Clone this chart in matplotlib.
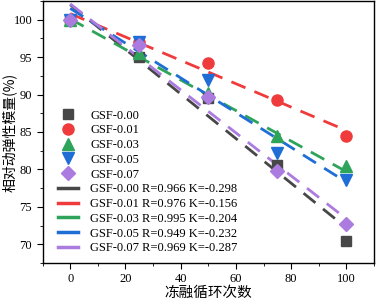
import numpy as np
import matplotlib
matplotlib.use("Agg")
import matplotlib.pyplot as plt
from matplotlib.ticker import MultipleLocator
from matplotlib.lines import Line2D

plt.rcParams['font.family'] = ['Liberation Serif', 'Noto Sans CJK SC']
plt.rcParams['mathtext.fontset'] = 'stix'

# freeze-thaw cycles
cycles = [0, 25, 50, 75, 100]

# relative dynamic modulus (%)
gsf_000 = [100.0, 95.0, 89.5, 80.6, 70.4]
gsf_001 = [100.0, 97.0, 94.2, 89.3, 84.5]
gsf_003 = [100.0, 95.5, 90.2, 84.4, 80.4]
gsf_005 = [100.0, 97.0, 92.0, 82.2, 78.6]
gsf_007 = [100.0, 96.6, 89.7, 79.8, 72.7]

names = ["GSF-0.00", "GSF-0.01", "GSF-0.03", "GSF-0.05", "GSF-0.07"]
r_vals = [0.966, 0.976, 0.995, 0.949, 0.969]
k_vals = [-0.298, -0.156, -0.204, -0.232, -0.287]
b_vals = [102.0, 100.8, 100.1, 101.5, 102.1]   # fit intercepts

series = [gsf_000, gsf_001, gsf_003, gsf_005, gsf_007]
colors = ["#474747", "#ef3b3b", "#2ea45a", "#1f6ed6", "#ab7be0"]
markers = ["s", "o", "^", "v", "D"]
msizes = [7, 8, 8, 8, 7]

fig = plt.figure(figsize=(3.77, 3.03), dpi=100)
ax = fig.add_axes([0.113, 0.132, 0.879, 0.865])

xs = np.array([0, 100])
for c, k, b in zip(colors, k_vals, b_vals):
    ax.plot(xs, b + k * xs, color=c, lw=2.0, dashes=(5.5, 3.5), zorder=2)
for y, c, m, ms in zip(series, colors, markers, msizes):
    ax.plot(cycles, y, ls="none", marker=m, ms=ms, color=c, zorder=3)

ax.set_xlim(-10, 110)
ax.set_ylim(67.5, 102.5)
ax.xaxis.set_major_locator(MultipleLocator(20))
ax.xaxis.set_minor_locator(MultipleLocator(10))
ax.yaxis.set_major_locator(MultipleLocator(5))
ax.yaxis.set_minor_locator(MultipleLocator(2.5))
ax.tick_params(which="both", direction="out", labelsize=9, top=False, right=False)
ax.tick_params(which="major", length=4)
ax.tick_params(which="minor", length=2)
for s in ax.spines.values():
    s.set_linewidth(1.0)

ax.set_xlabel("冻融循环次数", fontsize=10.5, family=['Noto Sans CJK SC'], labelpad=0)
ax.set_ylabel("相对动弹性模量(%)", fontsize=10, family=['Noto Sans CJK SC'])
ax.yaxis.set_label_coords(-0.078, 0.5)

handles, labels = [], []
for n, c, m, ms in zip(names, colors, markers, msizes):
    handles.append(Line2D([], [], ls="none", marker=m, ms=ms, color=c))
    labels.append(n)
for n, c, r, k in zip(names, colors, r_vals, k_vals):
    handles.append(Line2D([], [], color=c, lw=2.5))
    labels.append(f"{n} R={r:.3f} K={k:.3f}")
ax.legend(handles, labels, loc="lower left", bbox_to_anchor=(0.02, 0.0),
          frameon=False, fontsize=9, handlelength=1.6, handletextpad=1.0,
          labelspacing=0.22, borderaxespad=0.3)

fig.savefig("out.png", dpi=100)
